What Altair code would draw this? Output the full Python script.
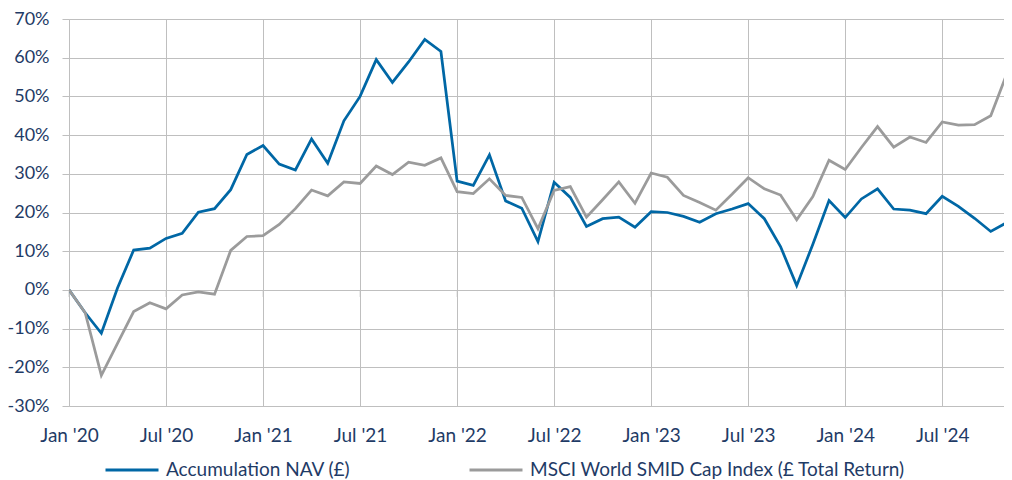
import json
import altair as alt
import pandas as pd

# month index 0 = Jan 2020 ... 59 = Dec 2024
months = list(range(60))
nav = [0, -5.9, -11.2, 0.5, 10.3, 10.8, 13.3, 14.6, 20.1, 21.0, 25.9, 35.0,
       37.3, 32.5, 31.0, 39.0, 32.7, 43.7, 50.0, 59.5, 53.6, 58.9, 64.7, 61.6,
       28.1, 27.0, 34.9, 23.0, 21.1, 12.5, 27.8, 23.9, 16.4, 18.4, 18.8, 16.2,
       20.2, 20.0, 19.0, 17.5, 19.7, 20.9, 22.3, 18.4, 11.2, 1.1, 11.8, 23.1,
       18.7, 23.5, 26.1, 20.9, 20.6, 19.7, 24.2, 21.6, 18.5, 15.1, 17.4, 13.3]
msci = [0, -5.9, -22.1, -13.8, -5.6, -3.3, -4.9, -1.3, -0.5, -1.1, 10.2, 13.8,
        14.0, 16.9, 21.0, 25.8, 24.3, 27.9, 27.5, 32.0, 29.8, 33.0, 32.2, 34.1,
        25.4, 24.9, 28.7, 24.4, 23.9, 15.8, 25.7, 26.7, 18.8, 23.3, 27.9, 22.4,
        30.2, 29.1, 24.4, 22.6, 20.6, 24.7, 29.0, 26.1, 24.5, 18.1, 24.1, 33.5,
        31.1, 36.8, 42.2, 36.9, 39.5, 38.1, 43.4, 42.6, 42.7, 45.0, 55.9, 49.0]

series_names = ["Accumulation NAV (£)", "MSCI World SMID Cap Index (£ Total Return)"]
series_colors = ["#0067A5", "#9B9B9B"]
tick_months = [0, 6, 12, 18, 24, 30, 36, 42, 48, 54]
tick_labels = ["Jan '20", "Jul '20", "Jan '21", "Jul '21", "Jan '22",
               "Jul '22", "Jan '23", "Jul '23", "Jan '24", "Jul '24"]
y_ticks = [-30, -20, -10, 0, 10, 20, 30, 40, 50, 60, 70]

rows = []
for m, a, b in zip(months, nav, msci):
    rows.append({"m": m, "v": a, "s": series_names[0]})
    rows.append({"m": m, "v": b, "s": series_names[1]})
df = pd.DataFrame(rows)
tick_df = pd.DataFrame({"m": tick_months, "v": [0] * len(tick_months)})

TEXT = "#1F3B66"
GRID = "#BFBFBF"
FONT = "Lato"

label_expr = "[" + ",".join(json.dumps(t) for t in tick_labels) + "][round(datum.value / 6)]"

x_enc = alt.X("m:Q",
              scale=alt.Scale(domain=[0, 57.82], nice=False, zero=False),
              axis=alt.Axis(values=tick_months, labelExpr=label_expr, grid=True,
                            gridColor=GRID, gridWidth=1, ticks=False, tickSize=0,
                            domain=False, title=None, labelFontSize=19,
                            labelColor=TEXT, labelFont=FONT, labelPadding=20,
                            labelFlush=False, labelOverlap=False, labelBound=False))
y_enc = alt.Y("v:Q",
              scale=alt.Scale(domain=[-30, 70], nice=False, zero=False),
              axis=alt.Axis(values=y_ticks, labelExpr="datum.value + '%'", grid=True,
                            gridColor=GRID, gridWidth=1, ticks=True, tickSize=7,
                            tickColor=GRID, tickWidth=1, domain=False, title=None,
                            labelFontSize=18, labelColor=TEXT, labelFont=FONT,
                            labelPadding=13, labelOverlap=False, labelBound=False,
                            labelFlush=False))

lines = alt.Chart(df).mark_line(strokeWidth=2.75, clip=True).encode(
    x=x_enc,
    y=y_enc,
    color=alt.Color("s:N",
                    scale=alt.Scale(domain=series_names, range=series_colors),
                    legend=alt.Legend(orient="none", legendX=35, legendY=423,
                                      direction="horizontal", columns=2, title=None,
                                      symbolType="stroke", symbolSize=2809,
                                      symbolStrokeWidth=3, labelFontSize=19,
                                      labelFont=FONT, labelColor=TEXT,
                                      labelOffset=6, columnPadding=112,
                                      labelLimit=1000)),
    order="m:Q",
)

ticks = alt.Chart(tick_df).mark_tick(orient="vertical", size=7, thickness=1,
                                      color=GRID, yOffset=3.5).encode(
    x=x_enc, y=y_enc)

chart = alt.layer(ticks, lines).properties(
    width=935, height=387,
    autosize=alt.AutoSizeParams(type="none"),
    padding={"left": 61, "top": 11, "right": 0, "bottom": 74},
).configure_view(fill="#F7F7F7", stroke=None).configure(font=FONT)

chart.save("out.html", embed_options={"renderer": "svg", "actions": False})
